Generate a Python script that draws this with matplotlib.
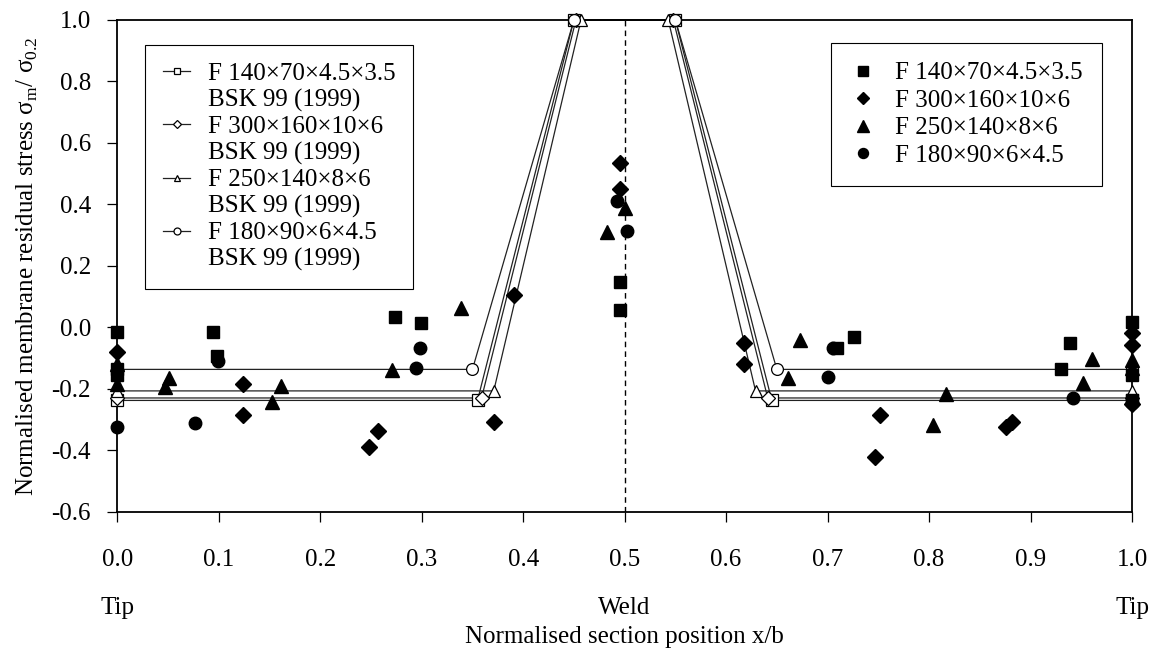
import numpy as np
import matplotlib
matplotlib.use("Agg")
import matplotlib.pyplot as plt
from matplotlib.lines import Line2D

plt.rcParams['font.family'] = ['Liberation Serif', 'DejaVu Serif']
plt.rcParams['mathtext.fontset'] = 'custom'
plt.rcParams['mathtext.rm'] = 'Liberation Serif'
plt.rcParams['axes.unicode_minus'] = False

FS = 18

# specimen names
names = ['F 140×70×4.5×3.5', 'F 300×160×10×6', 'F 250×140×8×6', 'F 180×90×6×4.5']
marks = ['s', 'D', '^', 'o']

# measured points (filled markers)
sq_x = [0, 0, 0, 0.094, 0.0985, 0.274, 0.299, 0.495, 0.495, 0.709, 0.726, 0.930, 0.939, 1.0, 1.0, 1.0]
sq_y = [-0.014, -0.135, -0.155, -0.014, -0.095, 0.033, 0.014, 0.149, 0.055, -0.068, -0.033, -0.135, -0.052, 0.016, -0.155, -0.235]

di_x = [0, 0.124, 0.124, 0.248, 0.257, 0.371, 0.391, 0.495, 0.495, 0.618, 0.618, 0.747, 0.752, 0.876, 0.882, 1.0, 1.0, 1.0]
di_y = [-0.082, -0.185, -0.287, -0.388, -0.339, -0.309, 0.104, 0.535, 0.451, -0.052, -0.12, -0.421, -0.287, -0.326, -0.308, -0.019, -0.057, -0.25]

tr_x = [0, 0, 0.047, 0.051, 0.152, 0.161, 0.271, 0.339, 0.483, 0.50, 0.661, 0.673, 0.804, 0.817, 0.952, 0.961, 1.0, 1.0]
tr_y = [-0.12, -0.185, -0.195, -0.166, -0.242, -0.19, -0.138, 0.062, 0.31, 0.388, -0.166, -0.041, -0.318, -0.218, -0.18, -0.104, -0.106, -0.132]

ci_x = [0, 0.0766, 0.0995, 0.294, 0.298, 0.4926, 0.502, 0.700, 0.705, 0.942, 1.0]
ci_y = [-0.326, -0.31, -0.111, -0.131, -0.066, 0.41, 0.312, -0.163, -0.066, -0.229, -0.245]

meas = [(sq_x, sq_y), (di_x, di_y), (tr_x, tr_y), (ci_x, ci_y)]

# BSK 99 (1999) model lines
bsk_x = [
    [0, 0.355, 0.450, 0.550, 0.645, 1.0],
    [0, 0.359, 0.452, 0.548, 0.641, 1.0],
    [0, 0.371, 0.457, 0.543, 0.629, 1.0],
    [0, 0.350, 0.450, 0.550, 0.650, 1.0],
]
bsk_lvl = [-0.238, -0.230, -0.207, -0.137]

fig = plt.figure(figsize=(11.68, 6.49), dpi=100)
ax = fig.add_axes((0.1004, 0.2116, 0.8688, 0.7576))

model_h = []
for xs, lv, m in zip(bsk_x, bsk_lvl, marks):
    ys = [lv, lv, 1.0, 1.0, lv, lv]
    ax.plot(xs, ys, color='#222222', lw=0.9, zorder=2, clip_on=False)
    ax.plot(xs, ys, ls='none', marker=m, ms=8.5 if m != 'D' else 7,
            mfc='white', mec='black', mew=0.9, zorder=3, clip_on=False)
    model_h.append(Line2D([], [], color='#222222', lw=0.9, marker=m,
                          ms=5 if m != 'D' else 4.5, mfc='white', mec='black', mew=0.9))

meas_h = []
for (xs, ys), m, nm in zip(meas, marks, names):
    s = {'s': 9, 'D': 8, '^': 10, 'o': 9}[m]
    h, = ax.plot(xs, ys, ls='none', marker=m, ms=s, color='black',
                 zorder=4, clip_on=False, label=nm)
    meas_h.append(h)

ax.axvline(0.5, color='black', lw=1.0, ls=(0, (4, 3)), zorder=1)

ax.set_xlim(0, 1)
ax.set_ylim(-0.6, 1.0)
ax.set_xticks(np.arange(0, 1.01, 0.1))
ax.set_yticks(np.arange(-0.6, 1.01, 0.2))
ax.set_xticklabels([f'{v:.1f}' for v in np.arange(0, 1.01, 0.1)])
ax.set_yticklabels([f'{v:.1f}' for v in np.arange(-0.6, 1.01, 0.2)])
ax.tick_params(axis='both', direction='out', length=7, width=0.9, labelsize=FS)
ax.tick_params(axis='x', pad=20)
ax.tick_params(axis='y', pad=12)
for sp in ax.spines.values():
    sp.set_linewidth(1.3)

ax.set_ylabel('Normalised membrane residual stress σ$_{\\rm m}$/ σ$_{\\rm 0.2}$',
              fontsize=FS, labelpad=8)
ax.set_xlabel('Normalised section position x/b', fontsize=FS)
ax.xaxis.set_label_coords(0.5, -0.232)

for xv, t in [(0.0, 'Tip'), (0.5, 'Weld'), (1.0, 'Tip')]:
    ax.text(xv, -0.208, t, ha='center', va='baseline', fontsize=FS,
            transform=ax.get_xaxis_transform(), clip_on=False)

# left legend: model lines, two text rows per specimen
hl, ll = [], []
blank = Line2D([], [], ls='none')
for h, nm in zip(model_h, names):
    hl += [h, blank]
    ll += [nm, 'BSK 99 (1999)']
leg1 = ax.legend(hl, ll, loc='upper left', bbox_to_anchor=(0.0276, 0.949),
                 borderaxespad=0, fontsize=FS, frameon=True, fancybox=False,
                 edgecolor='black', framealpha=1, handlelength=1.1,
                 handletextpad=0.7, labelspacing=0.15, borderpad=0.7)
leg1.get_frame().set_linewidth(0.8)
ax.add_artist(leg1)

leg2 = ax.legend(meas_h, names, loc='upper right', bbox_to_anchor=(0.970, 0.953),
                 borderaxespad=0, fontsize=FS, frameon=True, fancybox=False,
                 edgecolor='black', framealpha=1, handlelength=1.0,
                 handletextpad=0.8, labelspacing=0.2, borderpad=0.75,
                 markerscale=0.8)
leg2.get_frame().set_linewidth(0.8)

fig.savefig('out.png', dpi=100)
